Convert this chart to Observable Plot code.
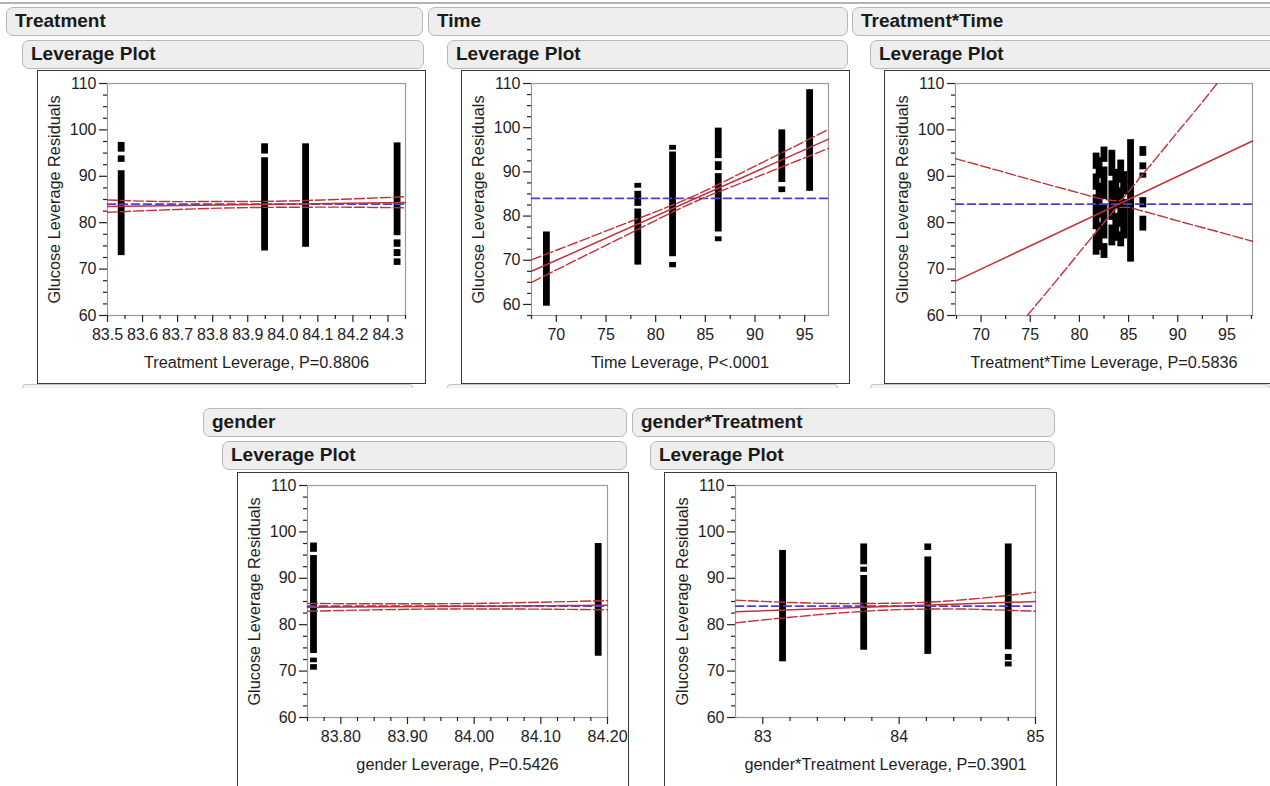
<!DOCTYPE html>
<html><head><meta charset="utf-8">
<script src="https://cdn.jsdelivr.net/npm/d3@7"></script>
<script src="https://cdn.jsdelivr.net/npm/@observablehq/plot@0.6"></script>
<style>
body{margin:0;background:#fff;width:1270px;height:786px;overflow:hidden;position:relative;font-family:"Liberation Sans",Arial,sans-serif;}
.bar{position:absolute;box-sizing:border-box;height:29px;background:#eeeeee;border:1.5px solid #b7b7b7;border-radius:7px;font-weight:bold;font-size:19px;color:#1a1a1a;line-height:26px;padding-left:8px;white-space:nowrap;overflow:hidden;}
.stub{position:absolute;box-sizing:border-box;height:4px;border:1.5px solid #c4c4c4;border-bottom:none;border-radius:7px 7px 0 0;background:#f2f2f2;}
.frame{position:absolute;box-sizing:border-box;border:1.5px solid #3a3a3a;}
.plot{position:absolute;}
.topline{position:absolute;left:0;top:2px;width:1270px;height:2px;background:#b4b4b4;}
</style></head><body>
<div class="topline"></div>
<script>
// ---------- data ----------
const panelTitles = ["Treatment", "Time", "Treatment*Time", "gender", "gender*Treatment"];
const yLabel = "Glucose Leverage Residuals";
const xLabels = ["Treatment Leverage, P=0.8806", "Time Leverage, P<.0001", "Treatment*Time Leverage, P=0.5836",
                 "gender Leverage, P=0.5426", "gender*Treatment Leverage, P=0.3901"];
const meanValue = 84;

const yTicks = [60, 70, 80, 90, 100, 110];
const yMinorTicks = [57.5, 62.5, 65, 67.5, 72.5, 75, 77.5, 82.5, 85, 87.5, 92.5, 95, 97.5, 102.5, 105, 107.5];

const treatmentTicks = [83.5, 83.6, 83.7, 83.8, 83.9, 84.0, 84.1, 84.2, 84.3];
const treatmentMinor = [83.55, 83.65, 83.75, 83.85, 83.95, 84.05, 84.15, 84.25, 84.35];
const timeTicks = [70, 75, 80, 85, 90, 95];
const timeMinor = [67.5, 72.5, 77.5, 82.5, 87.5, 92.5, 97.5];
const genderTicks = [83.8, 83.9, 84.0, 84.1, 84.2];
const genderMinor = [83.75, 83.775, 83.825, 83.85, 83.875, 83.925, 83.95, 83.975, 84.025, 84.05, 84.075, 84.125, 84.15, 84.175];
const gtTicks = [83, 84, 85];
const gtMinor = [83.2, 83.4, 83.6, 83.8, 84.2, 84.4, 84.6, 84.8];

// runs of stacked points: [x leverage, lowest y, highest y]
const treatmentRuns = [
  [83.539, 95.2, 97.3], [83.539, 93.0, 94.4], [83.539, 72.9, 91.2],
  [83.948, 94.8, 97.0], [83.948, 73.9, 94.0],
  [84.065, 74.7, 97.0],
  [84.326, 77.2, 97.2], [84.326, 74.7, 76.3], [84.326, 72.7, 74.2], [84.326, 70.8, 72.2]
];
const timeRuns = [
  [69.0, 59.6, 76.4],
  [78.2, 86.3, 87.4], [78.2, 82.2, 85.6], [78.2, 68.9, 81.6],
  [81.7, 94.9, 96.0], [81.7, 70.8, 94.5], [81.7, 68.3, 69.5],
  [86.3, 93.0, 99.9], [86.3, 90.3, 92.3], [86.3, 76.4, 89.6], [86.3, 74.2, 75.3],
  [92.7, 87.6, 99.5], [92.7, 85.3, 86.6],
  [95.5, 85.6, 108.6]
];
const ttRuns = [
  [81.7, 73.0, 77.5], [81.7, 78.5, 86.0], [81.7, 87.0, 90.5], [81.7, 91.5, 95.0],
  [82.0, 74.0, 80.0], [82.0, 81.0, 88.5], [82.0, 89.5, 94.0],
  [82.5, 72.3, 75.5], [82.5, 76.5, 84.0], [82.5, 85.0, 92.0], [82.5, 93.0, 96.3],
  [83.3, 75.0, 79.5], [83.3, 80.5, 89.0], [83.3, 90.0, 95.6],
  [83.7, 76.0, 82.0], [83.7, 83.0, 91.5],
  [84.2, 74.8, 78.0], [84.2, 79.0, 87.5], [84.2, 88.5, 93.5],
  [84.5, 76.5, 85.0], [84.5, 86.0, 91.0],
  [85.2, 71.5, 97.9],
  [86.45, 94.3, 96.4], [86.45, 91.4, 92.9], [86.45, 89.6, 90.7], [86.45, 83.2, 85.4], [86.45, 78.2, 81.4]
];
const genderRuns = [
  [83.759, 95.6, 97.6], [83.759, 73.8, 94.9], [83.759, 71.8, 72.8], [83.759, 70.2, 71.4],
  [84.186, 73.2, 97.5]
];
const gtRuns = [
  [83.145, 72.0, 96.0],
  [83.74, 92.9, 97.4], [83.74, 91.3, 92.4], [83.74, 74.5, 90.6],
  [84.21, 96.0, 97.4], [84.21, 73.6, 94.6],
  [84.80, 74.6, 97.4], [84.80, 72.3, 73.6], [84.80, 70.9, 72.0]
];

// fit lines and confidence curves: [x, y]
const treatmentFit = [[83.5, 83.5], [84.35, 84.35]];
const treatmentUpper = [[83.5, 84.9], [83.7, 84.55], [83.95, 84.6], [84.15, 85.0], [84.35, 85.6]];
const treatmentLower = [[83.5, 82.25], [83.7, 82.85], [83.95, 83.3], [84.15, 83.35], [84.35, 83.2]];
const timeFit = [[67.5, 67.5], [97.4, 97.4]];
const timeUpper = [[67.5, 70.1], [76, 77.5], [84, 84.7], [90, 91.3], [97.4, 99.6]];
const timeLower = [[67.5, 65.0], [76, 74.5], [84, 83.3], [90, 88.7], [97.4, 95.3]];
const ttFit = [[67.4, 67.4], [97.6, 97.6]];
const ttUpper = [[67.4, 93.8], [72, 91.1], [76, 88.7], [80, 86.4], [82, 85.25], [83, 84.9], [84, 84.7], [85, 86.7], [86, 89.3], [88, 94.4], [90, 99.6], [92, 104.7], [94, 110]];
const ttLower = [[74.7, 60], [78, 68.4], [80, 73.6], [82, 78.75], [83, 81.3], [84, 83.3], [85, 83.3], [86, 82.75], [88, 81.6], [90, 80.4], [94, 78.1], [97.6, 76.0]];
const genderFit = [[83.75, 83.75], [84.2, 84.2]];
const genderUpper = [[83.75, 84.6], [83.85, 84.5], [83.98, 84.55], [84.1, 84.85], [84.2, 85.2]];
const genderLower = [[83.75, 82.9], [83.85, 83.2], [83.98, 83.4], [84.1, 83.35], [84.2, 83.2]];
const gtFit = [[82.8, 82.8], [85, 85]];
const gtUpper = [[82.8, 85.3], [83.2, 84.8], [83.6, 84.55], [84.0, 84.65], [84.4, 85.2], [84.7, 86.0], [85.0, 87.0]];
const gtLower = [[82.8, 80.4], [83.2, 81.6], [83.6, 82.6], [84.0, 83.25], [84.4, 83.4], [84.7, 83.2], [85.0, 82.9]];

// ---------- layout ----------
function div(cls, left, top, width, height, text) {
  const d = document.createElement("div");
  d.className = cls;
  d.style.left = left + "px"; d.style.top = top + "px";
  if (width != null) d.style.width = width + "px";
  if (height != null) d.style.height = height + "px";
  if (text) d.textContent = text;
  document.body.appendChild(d);
  return d;
}

const RED = "#c0313b", BLUE = "#4d40cc";

const panels = [
  {title: panelTitles[0], bar: [6, 7, 417], lbar: [22, 40, 402], frame: [37, 70, 389, 314], stub: [22, 384, 391],
   svg: [38, 71, 386, 311], m: [12, 19, 67, 69], xd: [83.5, 84.35], yd: [60, 110],
   xt: treatmentTicks, xm: treatmentMinor, fmt: ".1f", runs: treatmentRuns, fit: treatmentFit, up: treatmentUpper, lo: treatmentLower, xl: xLabels[0]},
  {title: panelTitles[1], bar: [428, 7, 420], lbar: [447, 40, 401], frame: [461, 70, 389, 314], stub: [447, 384, 391],
   svg: [462, 71, 386, 311], m: [12, 20, 67, 69], xd: [67.5, 97.4], yd: [57.5, 110],
   xt: timeTicks, xm: timeMinor, fmt: "d", runs: timeRuns, fit: timeFit, up: timeUpper, lo: timeLower, xl: xLabels[1]},
  {title: panelTitles[2], bar: [852, 7, 430], lbar: [870, 40, 420], frame: [884, 70, 400, 314], stub: [870, 384, 400],
   svg: [885, 71, 385, 311], m: [12, 18, 67, 70], xd: [67.4, 97.6], yd: [60, 110],
   xt: timeTicks, xm: timeMinor, fmt: "d", runs: ttRuns, fit: ttFit, up: ttUpper, lo: ttLower, xl: xLabels[2]},
  {title: panelTitles[3], bar: [203, 408, 424], lbar: [222, 441, 405], frame: [237, 472, 392, 330], stub: null,
   svg: [238, 473, 386, 313], m: [12, 17, 69, 69], xd: [83.75, 84.2], yd: [60, 110],
   xt: genderTicks, xm: genderMinor, fmt: ".2f", runs: genderRuns, fit: genderFit, up: genderUpper, lo: genderLower, xl: xLabels[3]},
  {title: panelTitles[4], bar: [632, 408, 423], lbar: [650, 441, 405], frame: [664, 472, 393, 330], stub: null,
   svg: [665, 473, 390, 313], m: [12, 20, 69, 70], xd: [82.8, 85], yd: [60, 110],
   xt: gtTicks, xm: gtMinor, fmt: "d", runs: gtRuns, fit: gtFit, up: gtUpper, lo: gtLower, xl: xLabels[4]}
];

for (const p of panels) {
  div("bar", p.bar[0], p.bar[1], p.bar[2], null, p.title);
  div("bar", p.lbar[0], p.lbar[1], p.lbar[2], null, "Leverage Plot");
  div("frame", p.frame[0], p.frame[1], p.frame[2], p.frame[3]);
  if (p.stub) div("stub", p.stub[0], p.stub[1], p.stub[2], 4);

  const [x0, x1] = p.xd, [y0, y1] = p.yd;
  const eps = 1e-9;
  const xMinor = p.xm.filter(v => v >= x0 - eps && v <= x1 + eps);
  const yMinor = yMinorTicks.filter(v => v >= y0 - eps && v <= y1 + eps);
  const mean = [[x0, meanValue], [x1, meanValue]];

  const chart = Plot.plot({
    width: p.svg[2], height: p.svg[3],
    marginTop: p.m[0], marginRight: p.m[1], marginBottom: p.m[2], marginLeft: p.m[3],
    style: {fontFamily: "'Liberation Sans', Arial, sans-serif", fontSize: "16px", color: "#1e1e1e", background: "transparent", overflow: "visible"},
    x: {domain: p.xd},
    y: {domain: p.yd},
    marks: [
      Plot.frame({stroke: "#9a9a9a", strokeWidth: 1.2}),
      Plot.ruleX(p.runs, {x: d => d[0], y1: d => d[1], y2: d => d[2], stroke: "#000", strokeWidth: 6.8}),
      Plot.line(mean, {x: d => d[0], y: d => d[1], stroke: BLUE, strokeWidth: 1.6, strokeDasharray: "8,4"}),
      Plot.line(p.up, {x: d => d[0], y: d => d[1], stroke: RED, strokeWidth: 1.4, strokeDasharray: "10,3", curve: "monotone-x"}),
      Plot.line(p.lo, {x: d => d[0], y: d => d[1], stroke: RED, strokeWidth: 1.4, strokeDasharray: "10,3", curve: "monotone-x"}),
      Plot.line(p.fit, {x: d => d[0], y: d => d[1], stroke: RED, strokeWidth: 1.5}),
      Plot.axisY({ticks: yMinor, tickSize: 4, text: null, label: null, stroke: "#222", strokeWidth: 1.2}),
      Plot.axisY({ticks: yTicks, tickSize: 8, tickPadding: 3, stroke: "#222", strokeWidth: 1.2, line: true,
                  fontSize: 16, label: null}),
      Plot.axisY({ticks: [], text: null, tickSize: 0,
                  label: yLabel, labelAnchor: "center", labelOffset: 59, labelArrow: "none", fontSize: 16.3}),
      Plot.axisX({ticks: xMinor, tickSize: 4, text: null, label: null, stroke: "#222", strokeWidth: 1.2}),
      Plot.axisX({ticks: p.xt, tickSize: 7, tickPadding: 6, stroke: "#222", strokeWidth: 1.2, line: true,
                  tickFormat: d3.format(p.fmt), fontSize: 16, label: null}),
      Plot.axisX({ticks: [], text: null, tickSize: 0,
                  label: p.xl, labelAnchor: "center", labelOffset: 52, labelArrow: "none", fontSize: 16.3})
    ]
  });
  chart.classList.add("plot");
  chart.style.position = "absolute";
  chart.style.left = p.svg[0] + "px";
  chart.style.top = p.svg[1] + "px";
  document.body.appendChild(chart);
}
</script>
</body></html>
